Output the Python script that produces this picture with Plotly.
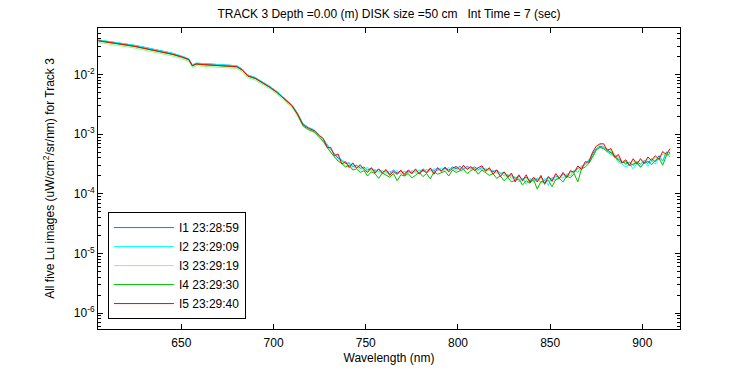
import plotly.graph_objects as go

# ---------------- data (log10 of radiance) ----------------
WL_SMOOTH = [605, 610, 615, 620, 625, 630, 635, 640, 645, 650, 654, 656, 658, 662, 666,
             670, 675, 680, 683, 686, 690, 694, 698, 702, 706, 710, 713, 716, 719, 722, 725]
WL_NOISY = list(range(727, 916, 2))

I1_SMOOTH = [-1.42, -1.44, -1.46, -1.49, -1.51, -1.54, -1.57, -1.60, -1.64, -1.69, -1.735, -1.84, -1.81,
             -1.815, -1.825, -1.835, -1.84, -1.85, -1.905, -2.005, -2.05, -2.12, -2.20, -2.29, -2.40,
             -2.51, -2.65, -2.83, -2.89, -2.93, -3.02]
I2_SMOOTH = [-1.415, -1.435, -1.46, -1.485, -1.51, -1.54, -1.57, -1.60, -1.64, -1.685, -1.73, -1.835,
             -1.805, -1.815, -1.825, -1.835, -1.84, -1.85, -1.905, -2.005, -2.045, -2.115, -2.195, -2.285,
             -2.395, -2.505, -2.645, -2.825, -2.885, -2.925, -3.015]
I3_SMOOTH = [-1.46, -1.48, -1.505, -1.53, -1.555, -1.585, -1.615, -1.645, -1.685, -1.73, -1.775, -1.88,
             -1.85, -1.86, -1.87, -1.88, -1.885, -1.895, -1.95, -2.05, -2.09, -2.16, -2.24, -2.33, -2.44,
             -2.55, -2.69, -2.87, -2.93, -2.97, -3.06]
I4_SMOOTH = [-1.435, -1.455, -1.48, -1.505, -1.53, -1.56, -1.59, -1.62, -1.66, -1.705, -1.75, -1.855,
             -1.825, -1.835, -1.845, -1.855, -1.86, -1.87, -1.925, -2.025, -2.065, -2.135, -2.215, -2.305,
             -2.415, -2.525, -2.67, -2.86, -2.92, -2.96, -3.05]
I5_SMOOTH = [-1.43, -1.45, -1.475, -1.50, -1.525, -1.555, -1.585, -1.615, -1.655, -1.70, -1.745, -1.85,
             -1.82, -1.83, -1.84, -1.85, -1.855, -1.865, -1.92, -2.02, -2.06, -2.13, -2.21, -2.30, -2.41,
             -2.52, -2.66, -2.84, -2.90, -2.94, -3.03]

I1_NOISY = [-3.09, -3.19, -3.25, -3.33, -3.40, -3.44, -3.49, -3.48, -3.54, -3.52,
            -3.57, -3.55, -3.60, -3.57, -3.62, -3.59, -3.64, -3.61, -3.66, -3.60,
            -3.65, -3.62, -3.66, -3.60, -3.64, -3.61, -3.65, -3.58, -3.63, -3.57,
            -3.62, -3.56, -3.61, -3.57, -3.60, -3.55, -3.58, -3.54, -3.58, -3.54,
            -3.57, -3.55, -3.59, -3.56, -3.60, -3.58, -3.63, -3.60, -3.66, -3.64,
            -3.70, -3.68, -3.74, -3.70, -3.76, -3.72, -3.78, -3.73, -3.77, -3.72,
            -3.78, -3.72, -3.76, -3.70, -3.73, -3.67, -3.70, -3.63, -3.63, -3.57,
            -3.55, -3.49, -3.44, -3.33, -3.24, -3.20, -3.22, -3.26, -3.30, -3.35,
            -3.42, -3.45, -3.50, -3.47, -3.52, -3.46, -3.50, -3.44, -3.49, -3.41,
            -3.46, -3.36, -3.45, -3.30, -3.31]
I2_NOISY = [-3.08, -3.16, -3.26, -3.32, -3.38, -3.43, -3.47, -3.50, -3.50, -3.55,
            -3.54, -3.58, -3.56, -3.60, -3.59, -3.63, -3.61, -3.65, -3.62, -3.64,
            -3.61, -3.66, -3.62, -3.65, -3.61, -3.64, -3.60, -3.63, -3.59, -3.62,
            -3.58, -3.61, -3.57, -3.60, -3.56, -3.60, -3.55, -3.58, -3.54, -3.58,
            -3.55, -3.58, -3.56, -3.60, -3.57, -3.61, -3.60, -3.65, -3.64, -3.70,
            -3.67, -3.74, -3.71, -3.80, -3.73, -3.84, -3.74, -3.79, -3.73, -3.82,
            -3.74, -3.86, -3.72, -3.77, -3.69, -3.74, -3.66, -3.70, -3.60, -3.64,
            -3.53, -3.52, -3.42, -3.38, -3.25, -3.22, -3.24, -3.30, -3.34, -3.38,
            -3.47, -3.50, -3.55, -3.50, -3.58, -3.49, -3.56, -3.47, -3.54, -3.44,
            -3.50, -3.40, -3.44, -3.33, -3.38]
I3_NOISY = [-3.13, -3.21, -3.31, -3.36, -3.43, -3.47, -3.53, -3.51, -3.57, -3.55,
            -3.60, -3.57, -3.62, -3.60, -3.65, -3.62, -3.67, -3.63, -3.68, -3.64,
            -3.67, -3.63, -3.68, -3.62, -3.67, -3.62, -3.66, -3.61, -3.65, -3.60,
            -3.64, -3.58, -3.63, -3.59, -3.62, -3.57, -3.61, -3.56, -3.60, -3.56,
            -3.59, -3.57, -3.61, -3.58, -3.62, -3.60, -3.65, -3.63, -3.69, -3.66,
            -3.73, -3.70, -3.77, -3.72, -3.79, -3.74, -3.80, -3.75, -3.79, -3.74,
            -3.81, -3.73, -3.78, -3.71, -3.75, -3.68, -3.72, -3.64, -3.66, -3.58,
            -3.60, -3.50, -3.48, -3.40, -3.27, -3.17, -3.20, -3.25, -3.27, -3.34,
            -3.38, -3.46, -3.43, -3.51, -3.45, -3.50, -3.43, -3.49, -3.41, -3.46,
            -3.39, -3.43, -3.33, -3.35, -3.27]
I4_NOISY = [-3.12, -3.22, -3.31, -3.38, -3.45, -3.49, -3.55, -3.52, -3.60, -3.58,
            -3.64, -3.61, -3.70, -3.63, -3.66, -3.74, -3.65, -3.69, -3.72, -3.66,
            -3.78, -3.68, -3.70, -3.66, -3.73, -3.69, -3.64, -3.71, -3.66, -3.75,
            -3.63, -3.67, -3.65, -3.62, -3.70, -3.60, -3.64, -3.62, -3.59, -3.66,
            -3.61, -3.58, -3.67, -3.60, -3.64, -3.69, -3.66, -3.74, -3.70, -3.78,
            -3.72, -3.80, -3.77, -3.75, -3.85, -3.78, -3.82, -3.76, -3.92, -3.79,
            -3.81, -3.77, -3.88, -3.76, -3.74, -3.80, -3.70, -3.73, -3.66, -3.80,
            -3.58, -3.55, -3.49, -3.37, -3.26, -3.22, -3.24, -3.29, -3.31, -3.37,
            -3.44, -3.48, -3.46, -3.53, -3.50, -3.47, -3.55, -3.48, -3.45, -3.51,
            -3.44, -3.40, -3.52, -3.36, -3.32]
I5_NOISY = [-3.07, -3.22, -3.22, -3.36, -3.33, -3.50, -3.46, -3.56, -3.48, -3.57,
            -3.51, -3.59, -3.64, -3.56, -3.65, -3.58, -3.65, -3.59, -3.69, -3.62,
            -3.67, -3.60, -3.69, -3.61, -3.66, -3.58, -3.67, -3.60, -3.65, -3.57,
            -3.67, -3.57, -3.62, -3.55, -3.63, -3.57, -3.54, -3.60, -3.52, -3.59,
            -3.54, -3.61, -3.56, -3.53, -3.62, -3.56, -3.67, -3.60, -3.71, -3.63,
            -3.72, -3.65, -3.80, -3.68, -3.78, -3.68, -3.81, -3.72, -3.80, -3.69,
            -3.84, -3.71, -3.79, -3.66, -3.74, -3.64, -3.73, -3.61, -3.64, -3.53,
            -3.59, -3.46, -3.47, -3.30, -3.20, -3.16, -3.16, -3.27, -3.24, -3.39,
            -3.34, -3.48, -3.43, -3.52, -3.41, -3.50, -3.41, -3.49, -3.38, -3.44,
            -3.36, -3.42, -3.29, -3.34, -3.24]

NAMES = ["I1 23:28:59", "I2 23:29:09", "I3 23:29:19", "I4 23:29:30", "I5 23:29:40"]
COLORS = ["#0080ff", "#00ffff", "#80ff80", "#00c000", "#ff0000"]

Y_TICKS = [1e-6, 1e-5, 1e-4, 1e-3, 1e-2]
Y_TICKTEXT = ["10<sup>-6</sup>", "10<sup>-5</sup>", "10<sup>-4</sup>", "10<sup>-3</sup>", "10<sup>-2</sup>"]
X_TICKS = [650, 700, 750, 800, 850, 900]

TITLE = "TRACK 3 Depth =0.00 (m) DISK size =50 cm\u00a0\u00a0\u00a0Int Time = 7 (sec)"
YTITLE = "All five Lu images (uW/cm<sup>2</sup>/sr/nm) for Track 3"
XTITLE = "Wavelength (nm)"

wl = WL_SMOOTH + WL_NOISY
series = [I1_SMOOTH + I1_NOISY, I2_SMOOTH + I2_NOISY, I3_SMOOTH + I3_NOISY,
          I4_SMOOTH + I4_NOISY, I5_SMOOTH + I5_NOISY]

FONT = "Liberation Sans, Arial, sans-serif"

# page body has an 8px margin: figure is 742x367 so that it fills the 750x375 window
W, H = 742, 367
fig = go.Figure()
for name, col, logv in zip(NAMES, COLORS, series):
    fig.add_trace(go.Scatter(x=wl, y=[10 ** v for v in logv], mode="lines", name=name,
                             line=dict(color=col, width=1)))

minor_vals = [m * 10 ** e for e in range(-7, 0) for m in range(2, 10)]

fig.update_layout(
    width=W, height=H,
    margin=dict(l=90, r=70, t=20, b=44),
    paper_bgcolor="white", plot_bgcolor="white",
    font=dict(family=FONT, size=12, color="black"),
    title=dict(text=TITLE, x=0.5, xanchor="center", xref="paper",
               y=1 - 6 / H, yref="container", yanchor="middle",
               font=dict(family=FONT, size=12, color="black")),
    showlegend=True,
    legend=dict(x=0.017, y=0.033, xanchor="left", yanchor="bottom",
                bgcolor="white", bordercolor="black", borderwidth=1,
                font=dict(family=FONT, size=12, color="black"),
                itemwidth=60, tracegroupgap=0),
    xaxis=dict(range=[604.8, 920.4], tickvals=X_TICKS,
               ticks="inside", ticklen=5, tickcolor="black", showline=True, linecolor="black",
               linewidth=1, mirror="allticks", showgrid=False, zeroline=False,
               ticklabelstandoff=3,
               title=dict(text=XTITLE, standoff=4, font=dict(family=FONT, size=12)),
               tickfont=dict(family=FONT, size=12)),
    yaxis=dict(type="log", range=[-6.267, -1.217], tickvals=Y_TICKS, ticktext=Y_TICKTEXT,
               ticks="inside", ticklen=5, tickcolor="black",
               showline=True, linecolor="black", linewidth=1, mirror="allticks",
               showgrid=False, zeroline=False,
               minor=dict(tickvals=minor_vals, ticks="inside", ticklen=3, tickcolor="black",
                          showgrid=False),
               title=dict(text=YTITLE, standoff=16, font=dict(family=FONT, size=12)),
               tickfont=dict(family=FONT, size=12)),
)

fig.write_html("out.html")
